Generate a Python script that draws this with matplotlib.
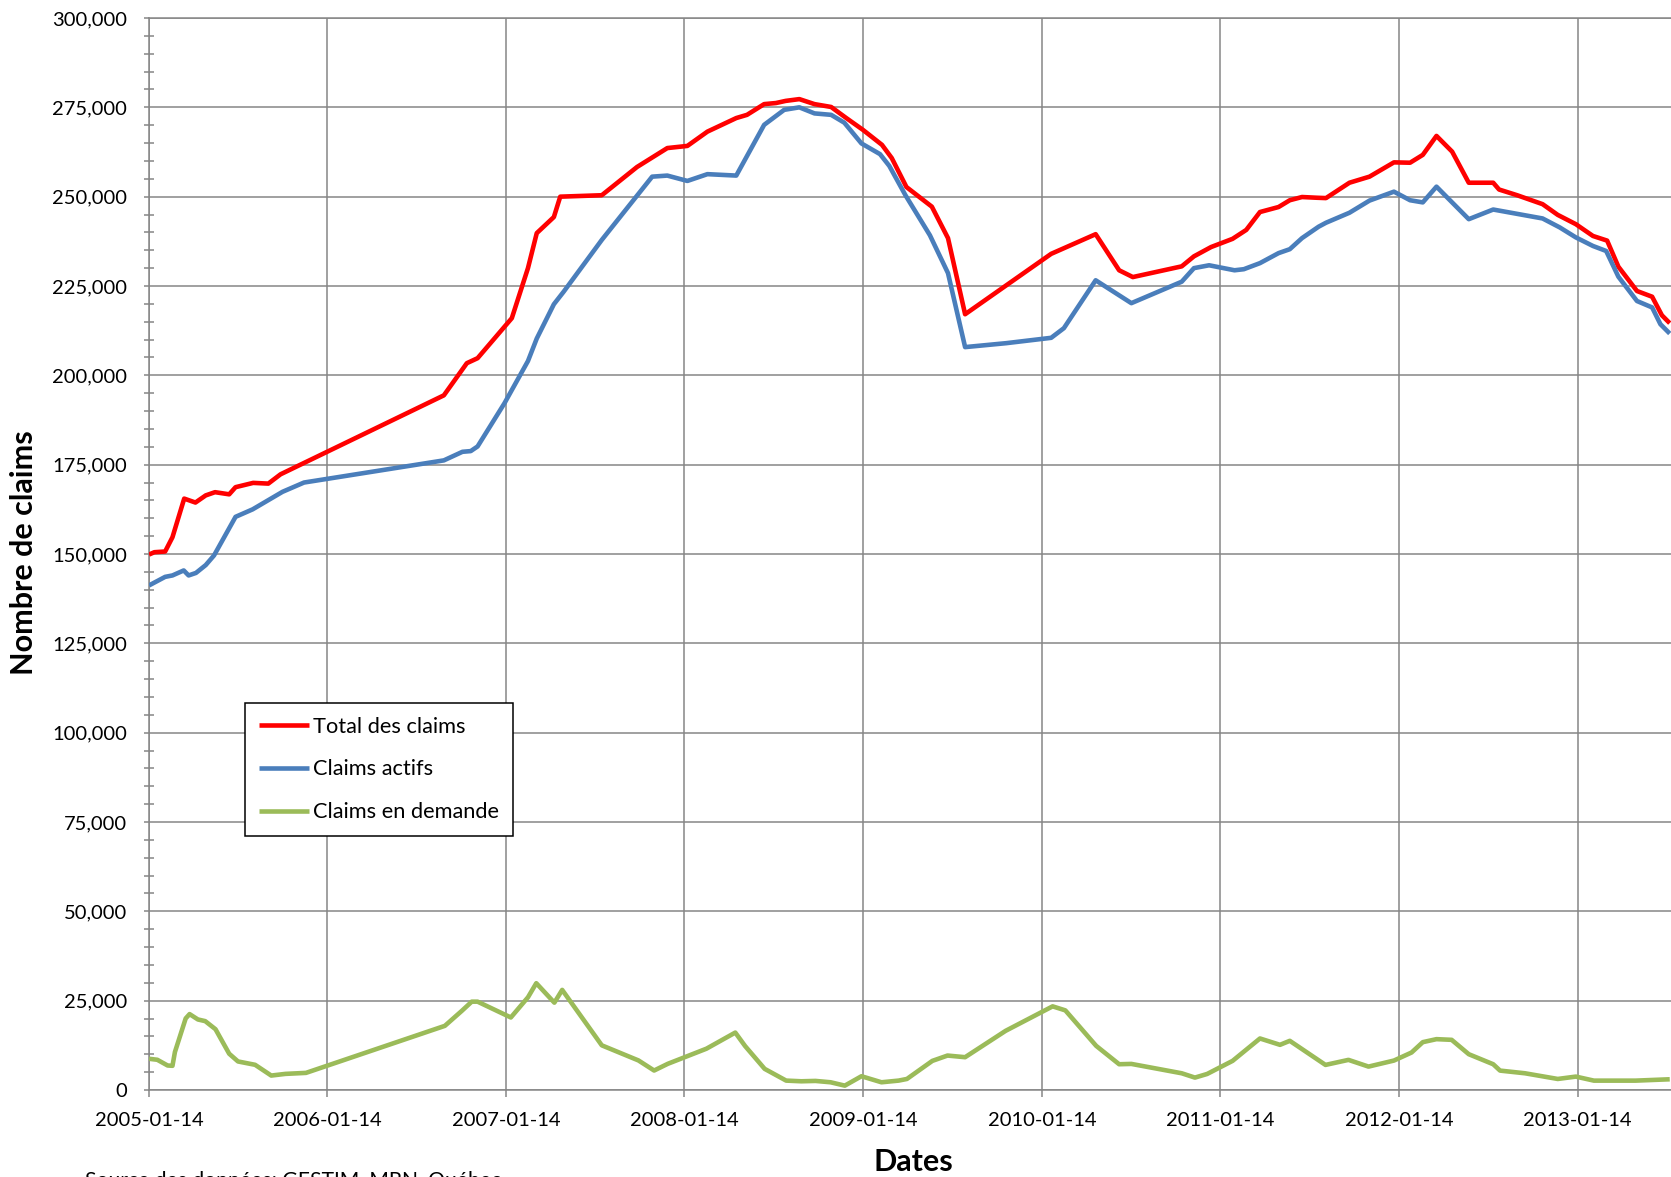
import matplotlib
matplotlib.use('Agg')
import matplotlib.pyplot as plt
import matplotlib.ticker as mticker
import pandas as pd

plt.rcParams['font.family'] = ['Lato', 'DejaVu Sans']

# ---------------- data ----------------
total_dates = [
    '2005-01-14', '2005-01-25', '2005-02-16', '2005-03-03', '2005-03-27', '2005-04-19',
    '2005-05-10', '2005-05-29', '2005-06-27', '2005-07-10', '2005-08-15', '2005-09-15',
    '2005-10-10', '2006-09-09', '2006-10-26', '2006-11-17', '2007-01-26', '2007-02-28',
    '2007-03-18', '2007-04-22', '2007-05-05', '2007-07-29', '2007-10-09', '2007-12-10',
    '2008-01-20', '2008-03-01', '2008-04-29', '2008-05-21', '2008-06-25', '2008-07-19',
    '2008-08-08', '2008-09-05', '2008-10-06', '2008-11-09', '2008-12-10', '2009-01-13',
    '2009-02-21', '2009-03-13', '2009-04-12', '2009-06-03', '2009-07-06', '2009-08-10',
    '2010-02-02', '2010-05-04', '2010-06-21', '2010-07-19', '2010-10-27', '2010-11-21',
    '2010-12-26', '2011-02-08', '2011-03-08', '2011-04-05', '2011-05-13', '2011-06-05',
    '2011-06-30', '2011-07-30', '2011-08-18', '2011-10-05', '2011-11-15', '2012-01-04',
    '2012-02-06', '2012-03-03', '2012-03-31', '2012-05-02', '2012-06-05', '2012-07-25',
    '2012-08-06', '2012-09-12', '2012-11-03', '2012-12-04', '2013-01-10', '2013-02-14',
    '2013-03-15', '2013-04-07', '2013-05-15', '2013-06-15', '2013-07-05', '2013-07-21',
]
total_values = [
    149850, 150500, 150700, 154700, 165500, 164400,
    166400, 167300, 166700, 168700, 169900, 169700,
    172300, 194400, 203400, 204800, 216000, 230000,
    239800, 244300, 250000, 250400, 258300, 263600,
    264200, 268200, 272000, 272900, 275900, 276200,
    276800, 277300, 275900, 275100, 272000, 268700,
    264500, 260800, 252700, 247200, 238400, 217100,
    234000, 239500, 229400, 227500, 230500, 233300,
    235900, 238200, 240700, 245700, 247100, 249000,
    249900, 249700, 249600, 253900, 255600, 259600,
    259500, 261700, 267000, 262600, 253900, 253900,
    252000, 250400, 247900, 244900, 242300, 239000,
    237700, 230400, 223600, 222000, 216800, 214600,
]

actifs_dates = [
    '2005-01-14', '2005-02-16', '2005-03-03', '2005-03-26', '2005-04-05', '2005-04-20',
    '2005-05-10', '2005-05-27', '2005-07-10', '2005-08-14', '2005-10-14', '2005-11-27',
    '2006-09-09', '2006-10-17', '2006-11-03', '2006-11-17', '2007-01-11', '2007-02-28',
    '2007-03-18', '2007-04-22', '2007-05-12', '2007-07-29', '2007-11-09', '2007-12-10',
    '2008-01-20', '2008-03-01', '2008-04-29', '2008-06-25', '2008-08-05', '2008-09-05',
    '2008-10-06', '2008-11-09', '2008-12-06', '2009-01-10', '2009-02-17', '2009-03-08',
    '2009-04-10', '2009-05-30', '2009-07-06', '2009-08-10', '2009-11-02', '2010-02-02',
    '2010-02-28', '2010-05-04', '2010-07-16', '2010-10-27', '2010-11-21', '2010-12-22',
    '2011-02-12', '2011-03-03', '2011-04-05', '2011-05-13', '2011-06-05', '2011-06-30',
    '2011-08-03', '2011-08-18', '2011-10-05', '2011-11-15', '2012-01-04', '2012-02-06',
    '2012-03-03', '2012-03-31', '2012-06-05', '2012-07-25', '2012-11-03', '2012-12-08',
    '2013-01-10', '2013-02-14', '2013-03-13', '2013-04-07', '2013-05-15', '2013-06-15',
    '2013-07-02', '2013-07-21',
]
actifs_values = [
    141200, 143600, 144000, 145400, 144000, 144700,
    146900, 149600, 160400, 162500, 167400, 170000,
    176200, 178600, 178800, 180100, 192200, 204000,
    210300, 219900, 223400, 237900, 255600, 255900,
    254400, 256300, 255900, 270100, 274300, 275000,
    273300, 272900, 270700, 264900, 261900, 258600,
    250400, 239200, 228600, 207900, 209000, 210500,
    213200, 226600, 220200, 226200, 230000, 230800,
    229400, 229700, 231400, 234200, 235300, 238400,
    241600, 242700, 245500, 248900, 251400, 249000,
    248400, 252800, 243700, 246400, 243900, 241400,
    238600, 236200, 234800, 227600, 220800, 219000,
    214300, 211700,
]

demande_dates = [
    '2005-01-14', '2005-01-31', '2005-02-21', '2005-03-03', '2005-03-08', '2005-03-30',
    '2005-04-07', '2005-04-24', '2005-05-09', '2005-05-30', '2005-06-27', '2005-07-15',
    '2005-08-19', '2005-09-21', '2005-10-20', '2005-12-01', '2006-09-11', '2006-10-16',
    '2006-11-05', '2006-11-17', '2007-01-24', '2007-02-28', '2007-03-17', '2007-04-23',
    '2007-05-09', '2007-07-29', '2007-10-12', '2007-11-13', '2007-12-11', '2008-02-28',
    '2008-04-27', '2008-05-17', '2008-06-26', '2008-08-09', '2008-09-09', '2008-10-08',
    '2008-11-08', '2008-12-07', '2009-01-10', '2009-02-20', '2009-03-27', '2009-04-13',
    '2009-06-04', '2009-07-05', '2009-08-10', '2009-11-01', '2010-02-05', '2010-03-03',
    '2010-05-05', '2010-06-21', '2010-07-16', '2010-10-27', '2010-11-23', '2010-12-18',
    '2011-02-08', '2011-04-05', '2011-05-16', '2011-06-05', '2011-08-17', '2011-10-03',
    '2011-11-13', '2012-01-04', '2012-02-09', '2012-03-03', '2012-03-31', '2012-05-01',
    '2012-06-05', '2012-07-25', '2012-08-08', '2012-09-28', '2012-12-04', '2013-01-10',
    '2013-02-16', '2013-05-12', '2013-07-21',
]
demande_values = [
    8740, 8460, 6860, 6770, 10620, 20020,
    21240, 19740, 19270, 17010, 10150, 7990,
    7050, 4040, 4510, 4790, 17950, 22180,
    24720, 24720, 20300, 25940, 29890, 24440,
    28010, 12500, 8270, 5450, 7330, 11560,
    16070, 12310, 5920, 2630, 2440, 2540,
    2160, 1220, 3850, 2160, 2630, 3090,
    8150, 9640, 9180, 16570, 23410, 22280,
    12360, 7210, 7300, 4680, 3470, 4490,
    8150, 14420, 12640, 13760, 7020, 8430,
    6550, 8240, 10490, 13390, 14230, 14040,
    10020, 7210, 5430, 4680, 3090, 3750,
    2620, 2620, 3000,
]

series_names = ['Total des claims', 'Claims actifs', 'Claims en demande']
series_colors = ['#FF0000', '#4A7EBB', '#9BBB59']
x_tick_labels = ['2005-01-14', '2006-01-14', '2007-01-14', '2008-01-14', '2009-01-14',
                 '2010-01-14', '2011-01-14', '2012-01-14', '2013-01-14']
y_label = 'Nombre de claims'
x_label = 'Dates'
source_text = 'Source des données: GESTIM, MRN, Québec'

# ---------------- figure ----------------
W, H = 1671, 1177
fig = plt.figure(figsize=(W / 100, H / 100), dpi=100)
ax = fig.add_axes([149 / W, 1 - 1090 / H, 1 - 149 / W, (1090 - 18) / H])

grid_c = '#868686'
for dates, vals, name, col in zip(
        [total_dates, actifs_dates, demande_dates],
        [total_values, actifs_values, demande_values],
        series_names, series_colors):
    ax.plot(pd.to_datetime(dates), vals, color=col, lw=3.3, label=name,
            solid_joinstyle='round', solid_capstyle='butt', zorder=3)

start = pd.Timestamp(x_tick_labels[0])
ax.set_xlim(start, start + pd.Timedelta(days=(W - 149) / 178.6 * 365.25))
ax.set_ylim(0, 300000)

ax.set_xticks(pd.to_datetime(x_tick_labels))
ax.set_xticklabels(x_tick_labels)
ax.yaxis.set_major_locator(mticker.MultipleLocator(25000))
ax.yaxis.set_minor_locator(mticker.MultipleLocator(5000))
ax.yaxis.set_major_formatter(mticker.FuncFormatter(lambda v, p: f'{int(v):,}'))

ax.grid(True, which='major', color=grid_c, lw=1.1, zorder=1)
ax.set_axisbelow(True)
for s in ['left', 'bottom', 'top']:
    ax.spines[s].set_color(grid_c)
    ax.spines[s].set_linewidth(1.1)
ax.spines['right'].set_visible(False)

ax.tick_params(axis='x', which='major', direction='out', length=5, width=1.1,
               color=grid_c, labelsize=14.5, pad=11)
ax.tick_params(axis='y', which='major', direction='out', length=3.6, width=1.1,
               color=grid_c, labelsize=14.5, pad=12)
ax.tick_params(axis='y', which='minor', direction='inout', length=7.2, width=1.1,
               color=grid_c)
ax.tick_params(axis='x', which='minor', length=0)

leg = ax.legend(loc='upper left', bbox_to_anchor=(245 / W, 1 - 703 / H),
                bbox_transform=fig.transFigure, fontsize=15.7, frameon=True,
                fancybox=False, edgecolor='black', handlelength=2.3,
                handletextpad=0.2, labelspacing=1.05, borderpad=0.62,
                borderaxespad=0)
leg.get_frame().set_linewidth(1.1)
leg.get_frame().set_alpha(1)
for line in leg.get_lines():
    line.set_linewidth(3.3)

fig.text(24 / W, 1 - 553 / H, y_label, rotation=90, ha='center', va='center',
         fontsize=22, fontweight='bold')
fig.text(913 / W, 1 - 1162 / H, x_label, ha='center', va='center',
         fontsize=22, fontweight='bold')
fig.text(85 / W, 1 - 1171 / H, source_text, ha='left', va='top', fontsize=15.2)

fig.savefig('out.png', dpi=100)
